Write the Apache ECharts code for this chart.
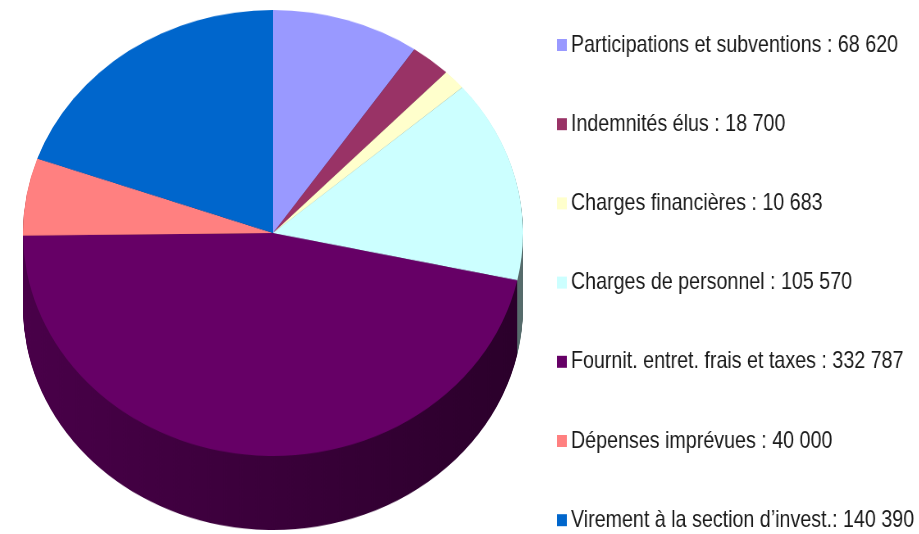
<!DOCTYPE html>
<html>
<head>
<meta charset="utf-8">
<script src="https://cdn.jsdelivr.net/npm/echarts@6/dist/echarts.min.js"></script>
<style>
  html, body { margin: 0; padding: 0; background: #fff; }
  #wrap { position: relative; width: 919px; height: 534px; overflow: hidden; }
  /* pie is drawn round, then squashed into the ellipse of the 3D view */
  #pie { position: absolute; left: 23px; top: 10px; width: 500px; height: 590px;
         transform: scaleY(0.892); transform-origin: top left; }
  /* narrow legend font: Liberation Sans squeezed like Arial Narrow */
  #legend { position: absolute; left: 0; top: 0; width: 1150px; height: 600px;
            transform: scaleX(0.82); transform-origin: 557px 0; }
</style>
</head>
<body>
<div id="wrap">
  <div id="pie"></div>
  <div id="legend"></div>
</div>
<script>
// données
const categories = [
  "Participations et subventions",
  "Indemnités élus",
  "Charges financières",
  "Charges de personnel",
  "Fournit. entret. frais et taxes",
  "Dépenses imprévues",
  "Virement à la section d’invest."
];
const values = [68620, 18700, 10683, 105570, 332787, 40000, 140390];
const colors = ["#9999ff", "#993366", "#ffffcc", "#ccffff", "#660066", "#ff8080", "#0066cc"];

const DEPTH = 83; // épaisseur du camembert (avant écrasement)

function shade(hex, f) {
  const n = parseInt(hex.slice(1), 16);
  const r = Math.round(((n >> 16) & 255) * f);
  const g = Math.round(((n >> 8) & 255) * f);
  const b = Math.round((n & 255) * f);
  return "rgb(" + r + "," + g + "," + b + ")";
}

function fmt(v) {
  return String(v).replace(/\B(?=(\d{3})+(?!\d))/g, " ");
}

function pieData(side) {
  return categories.map((name, i) => ({
    name: name,
    value: values[i],
    itemStyle: {
      color: side
        ? new echarts.graphic.LinearGradient(0, 0, 1, 0, [
            { offset: 0, color: shade(colors[i], 0.72) },
            { offset: 1, color: shade(colors[i], 0.42) }
          ])
        : colors[i]
    }
  }));
}

const base = {
  type: "pie",
  radius: 250,
  startAngle: 90,
  clockwise: true,
  silent: true,
  animation: false,
  label: { show: false },
  labelLine: { show: false },
  itemStyle: { borderWidth: 0 }
};

// flanc : piles de camemberts décalés vers le bas
const series = [];
for (let k = DEPTH; k >= 1; k -= 1) {
  series.push(Object.assign({}, base, {
    center: [250, 250 + k],
    z: 1,
    data: pieData(true)
  }));
}
// face supérieure
series.push(Object.assign({}, base, {
  center: [250, 250],
  z: 2,
  data: pieData(false)
}));

const pie = echarts.init(document.getElementById("pie"));
pie.setOption({ animation: false, series: series });

// légende
const legendChart = echarts.init(document.getElementById("legend"));
legendChart.setOption({
  animation: false,
  legend: {
    orient: "vertical",
    left: 557,
    top: 33,
    padding: 0,
    icon: "rect",
    itemWidth: 12,
    itemHeight: 12,
    itemGap: 55.2,
    selectedMode: false,
    textStyle: {
      fontFamily: "Liberation Sans, Arial, sans-serif",
      fontSize: 24,
      lineHeight: 24,
      color: "#1a1a1a"
    },
    formatter: function (name) {
      const i = categories.indexOf(name);
      const sep = name.endsWith(".") ? ": " : " : ";
      return name + sep + fmt(values[i]);
    },
    data: categories
  },
  series: [{
    type: "pie",
    radius: 0,
    center: [-100, -100],
    silent: true,
    label: { show: false },
    labelLine: { show: false },
    data: pieData(false)
  }]
});
</script>
</body>
</html>
